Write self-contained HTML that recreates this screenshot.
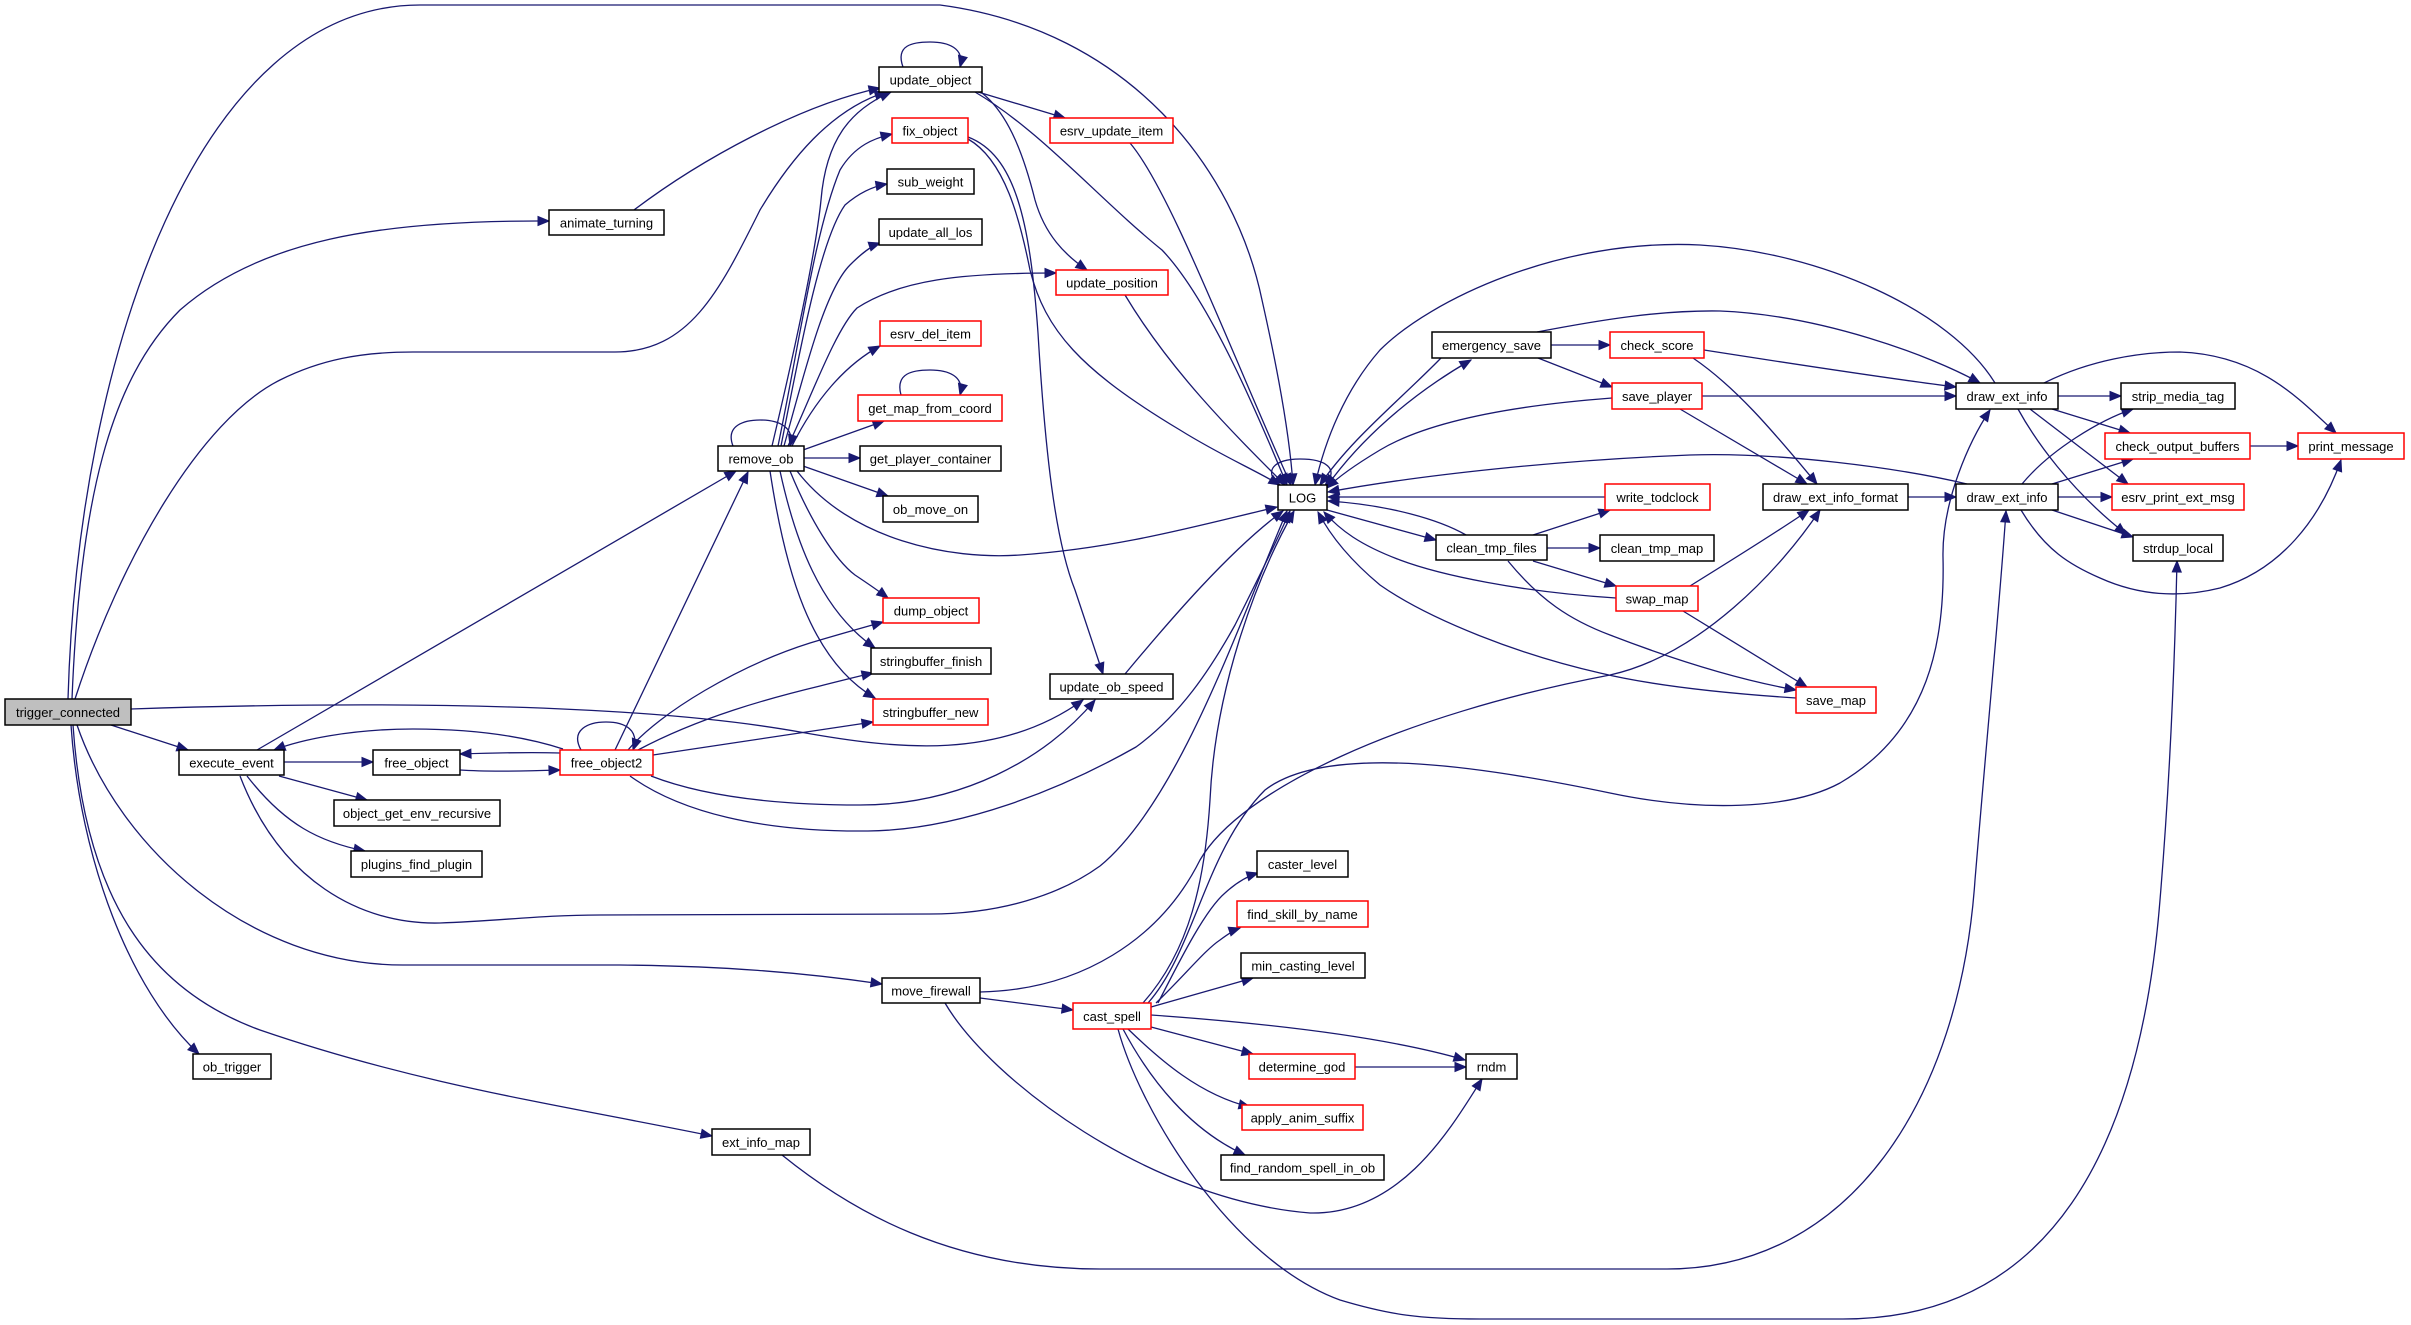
<!DOCTYPE html>
<html><head><meta charset="utf-8"><style>
html,body{margin:0;padding:0;background:#fff;}
#c{position:relative;width:2411px;height:1325px;overflow:hidden;background:#fff;}
svg{position:absolute;left:0;top:0;}
text{font-family:"Liberation Sans",Arial,sans-serif;font-size:13px;fill:#000;text-anchor:middle;}
</style></head><body><div id="c">
<svg width="2411" height="1325" viewBox="0 0 2411 1325" xmlns="http://www.w3.org/2000/svg">
<defs>
<marker id="a" markerUnits="userSpaceOnUse" markerWidth="13" markerHeight="10" refX="11" refY="4.5" orient="auto" overflow="visible">
<path d="M0,0 L11,4.5 L0,9 z" fill="#191970" stroke="#191970" stroke-width="1"/>
</marker>
</defs>
<g fill="none" stroke="#191970" stroke-width="1.3" marker-end="url(#a)">
<!-- trigger_connected -->
<path d="M68,699 C78,350 200,5 420,5 L940,5 C1130,30 1235,170 1262,300 C1280,380 1290,440 1293,485"/>
<path d="M72,699 C80,500 110,380 180,310 C260,240 380,221 537,221 L549,221"/>
<path d="M75,699 C120,560 200,420 280,380 C320,360 360,352 413,352 L615,352 C690,352 720,290 760,210 C790,160 830,110 886,92"/>
<path d="M131,709 C400,700 650,705 800,732 C900,750 1000,760 1083,700"/>
<path d="M111,725 L188,750"/>
<path d="M77,725 C120,850 250,965 403,965 L620,965 C720,966 800,972 882,984"/>
<path d="M71,725 C80,860 130,990 199,1054"/>
<path d="M73,725 C85,900 150,990 260,1030 C420,1085 560,1105 712,1136"/>
<!-- animate_turning -->
<path d="M634,210 C700,160 800,105 880,88"/>
<!-- execute_event -->
<path d="M257,750 L736,471"/>
<path d="M284,762 L373,762"/>
<path d="M279,776 L367,800"/>
<path d="M247,776 C285,825 320,842 365,851"/>
<path d="M240,776 C280,880 360,925 440,923 C500,921 540,915 600,915 L930,914 C1000,914 1060,895 1100,866 C1180,800 1240,620 1287,511"/>
<!-- free_object / free_object2 -->
<path d="M460,770 C490,772 530,771 560,770"/>
<path d="M560,753 C530,752 490,753 460,754"/>
<path d="M563,749 C520,735 470,729 413,729 C350,729 300,740 274,750"/>
<path d="M581,750 C570,730 588,722 606,722 C625,722 640,730 633,750"/>
<path d="M615,750 L748,472"/>
<path d="M628,750 C660,712 740,665 810,643 C840,634 862,628 883,622"/>
<path d="M638,750 C700,717 770,698 820,686 C840,681 855,677 873,673"/>
<path d="M653,755 L873,722"/>
<path d="M651,776 C700,795 770,805 860,805 C960,805 1045,760 1095,700"/>
<path d="M630,776 C680,812 760,832 868,831 C960,830 1060,790 1136,747 C1180,715 1210,670 1235,625 C1255,585 1275,545 1290,511"/>
<!-- remove_ob -->
<path d="M772,446 C790,370 815,260 821,200 C826,140 850,110 891,92"/>
<path d="M778,446 C800,340 815,230 840,170 C855,145 875,138 892,134"/>
<path d="M781,446 C800,350 820,240 845,205 C860,192 875,186 887,184"/>
<path d="M784,446 C805,370 825,290 850,265 C862,253 871,246 880,243"/>
<path d="M788,446 C810,400 835,330 857,308 C900,280 960,273 1056,273"/>
<path d="M792,446 C815,400 845,365 880,346"/>
<path d="M803,450 L884,421"/>
<path d="M804,458 L860,458"/>
<path d="M803,466 L888,496"/>
<path d="M797,471 C850,540 950,560 1020,555 C1120,548 1200,525 1277,507"/>
<path d="M790,471 C810,520 835,560 855,575 C870,585 880,592 888,598"/>
<path d="M780,471 C795,540 820,610 875,648"/>
<path d="M770,471 C785,570 810,660 875,698"/>
<path d="M733,446 C725,425 745,420 760,420 C780,420 795,428 790,446"/>
<!-- update_object etc -->
<path d="M903,67 C895,45 913,42 930,42 C948,42 965,48 960,67"/>
<path d="M978,92 L1065,118"/>
<path d="M982,93 C1010,115 1025,160 1035,200 C1045,235 1065,255 1087,270"/>
<path d="M975,92 C1040,130 1100,200 1162,250 C1210,300 1260,420 1287,485"/>
<path d="M968,137 C1015,155 1030,220 1038,333 C1045,450 1055,540 1075,590 C1085,620 1095,650 1103,674"/>
<path d="M968,139 C1005,160 1020,220 1030,270 C1045,330 1080,370 1180,430 C1220,455 1255,470 1280,485"/>
<path d="M1130,143 C1170,190 1230,350 1291,485"/>
<path d="M1125,295 C1170,370 1230,430 1285,485"/>
<path d="M901,395 C895,373 913,370 930,370 C948,370 965,376 960,395"/>
<path d="M1125,674 C1170,620 1230,550 1283,511"/>
<!-- LOG region -->
<path d="M1280,487 C1262,470 1275,459 1300,459 C1325,459 1340,468 1325,486"/>
<path d="M1441,358 C1400,400 1350,440 1320,485"/>
<path d="M1327,486 C1360,440 1410,395 1471,360"/>
<path d="M1612,398 C1520,405 1430,420 1380,450 C1360,462 1340,475 1327,488"/>
<path d="M1995,383 C1950,310 1820,252 1700,245 C1560,238 1430,300 1380,350 C1345,390 1325,440 1315,485"/>
<path d="M1551,345 L1610,345"/>
<path d="M1538,358 L1612,387"/>
<path d="M1537,332 C1600,320 1660,310 1720,311 C1820,315 1930,355 1980,383"/>
<path d="M1704,350 C1800,365 1900,380 1956,387"/>
<path d="M1693,358 C1740,390 1780,440 1817,484"/>
<path d="M1702,396 L1956,396"/>
<path d="M1680,409 L1807,484"/>
<path d="M2058,396 L2121,396"/>
<path d="M2052,409 L2130,433"/>
<path d="M2030,409 L2128,484"/>
<path d="M2018,409 C2035,440 2070,490 2126,534"/>
<path d="M2044,383 C2090,360 2140,352 2180,352 C2260,355 2300,400 2336,433"/>
<path d="M2250,446 L2298,446"/>
<path d="M1908,497 L1956,497"/>
<path d="M2052,484 L2133,459"/>
<path d="M2022,484 C2050,450 2100,420 2133,409"/>
<path d="M2058,497 L2112,497"/>
<path d="M2052,510 L2133,537"/>
<path d="M2021,510 C2045,550 2070,565 2100,578 C2140,596 2180,598 2220,588 C2280,570 2320,520 2341,460"/>
<path d="M1967,484 C1900,468 1780,452 1690,455 C1560,460 1420,475 1328,492"/>
<path d="M1605,497 L1328,497"/>
<path d="M1327,510 L1436,540"/>
<path d="M1466,535 C1440,520 1390,505 1328,501"/>
<path d="M1533,535 L1610,510"/>
<path d="M1547,548 L1600,548"/>
<path d="M1533,561 L1616,586"/>
<path d="M1508,561 C1540,600 1570,620 1610,635 C1680,662 1740,680 1796,690"/>
<path d="M1616,598 C1520,592 1440,575 1400,560 C1360,545 1340,530 1324,512"/>
<path d="M1690,586 C1740,555 1780,530 1809,510"/>
<path d="M1683,611 L1807,687"/>
<path d="M1796,698 C1720,693 1650,685 1600,673 C1520,655 1430,620 1380,585 C1350,560 1330,535 1318,512"/>
<!-- move_firewall / cast_spell -->
<path d="M980,998 L1073,1010"/>
<path d="M945,1003 C990,1080 1150,1200 1310,1213 C1400,1215 1450,1130 1482,1079"/>
<path d="M980,992 C1080,990 1160,940 1200,860 C1240,790 1400,715 1610,675 C1700,655 1780,570 1820,510"/>
<path d="M1143,1003 C1190,950 1205,880 1210,800 C1215,690 1255,580 1294,511"/>
<path d="M1148,1003 C1195,950 1205,850 1265,790 C1330,740 1500,770 1610,793 C1700,812 1790,810 1840,783 C1930,730 1945,640 1943,557 C1942,500 1970,440 1990,410"/>
<path d="M1158,1003 C1180,960 1205,910 1225,893 C1237,882 1248,876 1258,873"/>
<path d="M1156,1003 C1185,975 1205,950 1220,940 C1228,934 1234,930 1240,928"/>
<path d="M1151,1007 L1253,978"/>
<path d="M1151,1015 C1250,1022 1380,1035 1465,1060"/>
<path d="M1151,1027 L1253,1054"/>
<path d="M1128,1029 C1160,1060 1200,1095 1250,1107"/>
<path d="M1123,1029 C1150,1080 1190,1130 1245,1155"/>
<path d="M1118,1029 C1140,1110 1230,1260 1340,1300 C1390,1315 1420,1319 1480,1319 L1843,1319 C2050,1319 2140,1150 2160,900 C2170,780 2175,650 2177,561"/>
<path d="M1355,1067 L1466,1067"/>
<path d="M782,1155 C850,1210 950,1269 1100,1269 L1667,1269 C1850,1269 1960,1100 1975,880 C1990,700 2000,600 2006,511"/>
</g>
<g stroke-width="1.5">
<rect x="5" y="699" width="126" height="26" fill="#bfbfbf" stroke="#000"/><text x="68" y="717">trigger_connected</text>
<rect x="549" y="210" width="115" height="25" fill="#fff" stroke="#000"/><text x="606.5" y="227.5">animate_turning</text>
<rect x="879" y="67" width="103" height="25" fill="#fff" stroke="#000"/><text x="930.5" y="84.5">update_object</text>
<rect x="892" y="118" width="76" height="25" fill="#fff" stroke="#f00"/><text x="930" y="135.5">fix_object</text>
<rect x="1050" y="118" width="123" height="25" fill="#fff" stroke="#f00"/><text x="1111.5" y="135.5">esrv_update_item</text>
<rect x="887" y="169" width="87" height="25" fill="#fff" stroke="#000"/><text x="930.5" y="186.5">sub_weight</text>
<rect x="879" y="219" width="103" height="26" fill="#fff" stroke="#000"/><text x="930.5" y="237">update_all_los</text>
<rect x="1056" y="270" width="112" height="25" fill="#fff" stroke="#f00"/><text x="1112" y="287.5">update_position</text>
<rect x="880" y="321" width="101" height="25" fill="#fff" stroke="#f00"/><text x="930.5" y="338.5">esrv_del_item</text>
<rect x="858" y="395" width="144" height="26" fill="#fff" stroke="#f00"/><text x="930" y="413">get_map_from_coord</text>
<rect x="718" y="446" width="86" height="25" fill="#fff" stroke="#000"/><text x="761" y="463.5">remove_ob</text>
<rect x="860" y="446" width="141" height="25" fill="#fff" stroke="#000"/><text x="930.5" y="463.5">get_player_container</text>
<rect x="883" y="496" width="95" height="26" fill="#fff" stroke="#000"/><text x="930.5" y="514">ob_move_on</text>
<rect x="883" y="598" width="96" height="25" fill="#fff" stroke="#f00"/><text x="931" y="615.5">dump_object</text>
<rect x="871" y="648" width="120" height="26" fill="#fff" stroke="#000"/><text x="931" y="666">stringbuffer_finish</text>
<rect x="873" y="699" width="115" height="26" fill="#fff" stroke="#f00"/><text x="930.5" y="717">stringbuffer_new</text>
<rect x="1050" y="674" width="123" height="25" fill="#fff" stroke="#000"/><text x="1111.5" y="691.5">update_ob_speed</text>
<rect x="179" y="750" width="105" height="25" fill="#fff" stroke="#000"/><text x="231.5" y="767.5">execute_event</text>
<rect x="373" y="750" width="87" height="25" fill="#fff" stroke="#000"/><text x="416.5" y="767.5">free_object</text>
<rect x="560" y="750" width="93" height="25" fill="#fff" stroke="#f00"/><text x="606.5" y="767.5">free_object2</text>
<rect x="334" y="800" width="166" height="26" fill="#fff" stroke="#000"/><text x="417" y="818">object_get_env_recursive</text>
<rect x="351" y="851" width="131" height="26" fill="#fff" stroke="#000"/><text x="416.5" y="869">plugins_find_plugin</text>
<rect x="193" y="1054" width="78" height="25" fill="#fff" stroke="#000"/><text x="232" y="1071.5">ob_trigger</text>
<rect x="712" y="1129" width="98" height="26" fill="#fff" stroke="#000"/><text x="761" y="1147">ext_info_map</text>
<rect x="882" y="978" width="98" height="25" fill="#fff" stroke="#000"/><text x="931" y="995.5">move_firewall</text>
<rect x="1073" y="1003" width="78" height="26" fill="#fff" stroke="#f00"/><text x="1112" y="1021">cast_spell</text>
<rect x="1257" y="851" width="91" height="26" fill="#fff" stroke="#000"/><text x="1302.5" y="869">caster_level</text>
<rect x="1237" y="901" width="131" height="26" fill="#fff" stroke="#f00"/><text x="1302.5" y="919">find_skill_by_name</text>
<rect x="1241" y="953" width="124" height="25" fill="#fff" stroke="#000"/><text x="1303" y="970.5">min_casting_level</text>
<rect x="1249" y="1054" width="106" height="25" fill="#fff" stroke="#f00"/><text x="1302" y="1071.5">determine_god</text>
<rect x="1466" y="1054" width="51" height="25" fill="#fff" stroke="#000"/><text x="1491.5" y="1071.5">rndm</text>
<rect x="1242" y="1105" width="121" height="25" fill="#fff" stroke="#f00"/><text x="1302.5" y="1122.5">apply_anim_suffix</text>
<rect x="1221" y="1155" width="163" height="25" fill="#fff" stroke="#000"/><text x="1302.5" y="1172.5">find_random_spell_in_ob</text>
<rect x="1278" y="485" width="49" height="25" fill="#fff" stroke="#000"/><text x="1302.5" y="502.5">LOG</text>
<rect x="1432" y="332" width="119" height="26" fill="#fff" stroke="#000"/><text x="1491.5" y="350">emergency_save</text>
<rect x="1436" y="535" width="111" height="25" fill="#fff" stroke="#000"/><text x="1491.5" y="552.5">clean_tmp_files</text>
<rect x="1610" y="332" width="94" height="26" fill="#fff" stroke="#f00"/><text x="1657" y="350">check_score</text>
<rect x="1612" y="383" width="90" height="26" fill="#fff" stroke="#f00"/><text x="1657" y="401">save_player</text>
<rect x="1605" y="484" width="105" height="26" fill="#fff" stroke="#f00"/><text x="1657.5" y="502">write_todclock</text>
<rect x="1600" y="535" width="114" height="26" fill="#fff" stroke="#000"/><text x="1657" y="553">clean_tmp_map</text>
<rect x="1616" y="586" width="82" height="25" fill="#fff" stroke="#f00"/><text x="1657" y="603.5">swap_map</text>
<rect x="1796" y="687" width="80" height="26" fill="#fff" stroke="#f00"/><text x="1836" y="705">save_map</text>
<rect x="1763" y="484" width="145" height="26" fill="#fff" stroke="#000"/><text x="1835.5" y="502">draw_ext_info_format</text>
<rect x="1956" y="383" width="102" height="26" fill="#fff" stroke="#000"/><text x="2007" y="401">draw_ext_info</text>
<rect x="1956" y="484" width="102" height="26" fill="#fff" stroke="#000"/><text x="2007" y="502">draw_ext_info</text>
<rect x="2121" y="383" width="114" height="26" fill="#fff" stroke="#000"/><text x="2178" y="401">strip_media_tag</text>
<rect x="2105" y="433" width="145" height="26" fill="#fff" stroke="#f00"/><text x="2177.5" y="451">check_output_buffers</text>
<rect x="2112" y="484" width="132" height="26" fill="#fff" stroke="#f00"/><text x="2178" y="502">esrv_print_ext_msg</text>
<rect x="2133" y="535" width="90" height="26" fill="#fff" stroke="#000"/><text x="2178" y="553">strdup_local</text>
<rect x="2298" y="433" width="106" height="26" fill="#fff" stroke="#f00"/><text x="2351" y="451">print_message</text>
</g>
</svg>
</div></body></html>
